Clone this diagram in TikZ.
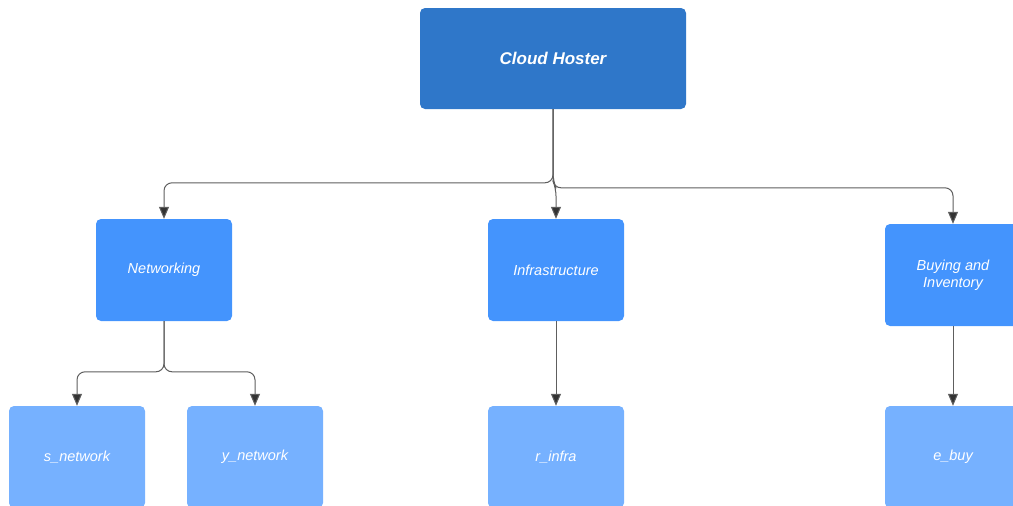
\documentclass[tikz,border=0pt]{standalone}
\usepackage{fontspec}
\setsansfont{Liberation Sans}
\usetikzlibrary{arrows.meta}

\definecolor{rootblue}{HTML}{2F77C9}
\definecolor{groupblue}{HTML}{4494FD}
\definecolor{leafblue}{HTML}{76B1FF}
\definecolor{linegray}{HTML}{5E5E5E}

\tikzset{
  box/.style={rectangle, rounded corners=5pt, inner sep=0pt, text=white,
    font=\sffamily\itshape\fontsize{14.5}{17.5}\selectfont, align=center},
  rootbox/.style={box, fill=rootblue, minimum width=266pt, minimum height=101pt,
    font=\sffamily\bfseries\itshape\fontsize{17}{20}\selectfont},
  groupbox/.style={box, fill=groupblue, minimum width=136pt, minimum height=102pt},
  leafbox/.style={box, fill=leafblue, minimum width=136pt, minimum height=102pt},
  conn/.style={draw=linegray, line width=1pt, rounded corners=8pt,
    -{Triangle[length=12pt,width=10pt,fill=black!80]}}
}

\begin{document}
\begin{tikzpicture}[x=1pt,y=-1pt]
    \useasboundingbox (0,0) rectangle (1013,506);
    \clip (0,0) rectangle (1013,506);

    % Raiz
    \node[rootbox] (root) at (553,58.5) {Cloud Hoster};

    % Segundo nivel
    \node[groupbox] (net)   at (164,270) {Networking};
    \node[groupbox] (infra) at (556,270) {Infrastructure};
    \node[groupbox] (buy)   at (953,275) {Buying and\\Inventory};

    % Tercer nivel
    \node[leafbox] (snet)  at (77,457)  {s\_network};
    \node[leafbox] (ynet)  at (255,457) {y\_network};
    \node[leafbox] (rinf)  at (556,457) {r\_infra};
    \node[leafbox] (ebuy)  at (953,457) {e\_buy};

    % Conexiones desde la raiz
    \draw[conn] (root.south) |- ([yshift=36pt]net.north) -- (net.north);
    \draw[conn] (root.south) -- (553,181) -- (556,188) -- (infra.north);
    \draw[conn] (root.south) |- ([yshift=36pt]buy.north) -- (buy.north);

    % Conexiones de segundo nivel
    \draw[conn] (net.south) |- ([yshift=34pt]snet.north) -- (snet.north);
    \draw[conn] (net.south) |- ([yshift=34pt]ynet.north) -- (ynet.north);
    \draw[conn] (infra.south) -- (rinf.north);
    \draw[conn] (buy.south) -- (ebuy.north);

  \end{tikzpicture}
\end{document}
